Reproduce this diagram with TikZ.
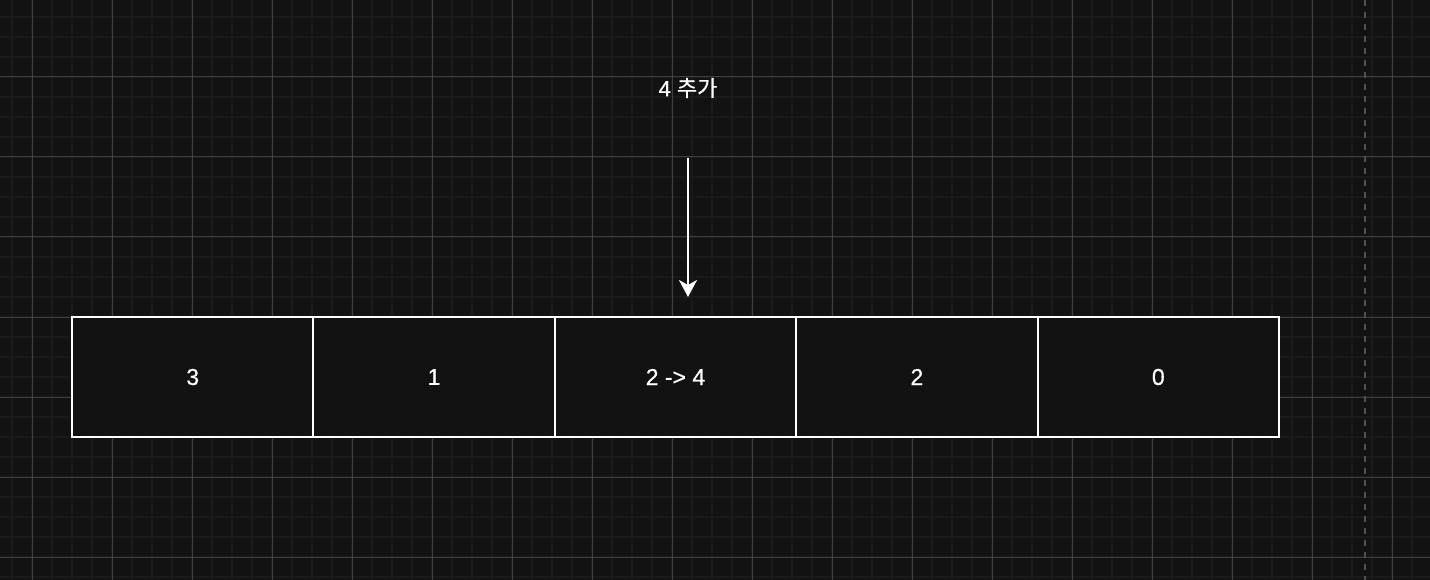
\documentclass[tikz,border=0pt]{standalone}
\usepackage{fontspec}
\setmainfont{Liberation Sans}
\newfontfamily\cellfont{Liberation Sans}[FakeBold=0.6]
\newfontfamily\krfont{Noto Sans CJK KR}[FakeBold=0.6]
\usetikzlibrary{positioning,arrows.meta}
\definecolor{bg}{HTML}{121212}
\definecolor{minorgrid}{HTML}{1A1A1A}
\definecolor{majorgrid}{HTML}{404040}
\definecolor{guide}{HTML}{505050}

\begin{document}
\begin{tikzpicture}[x=1pt,y=-1pt,
    cell/.style={draw=white,line width=2pt,fill=bg,text=white,
      minimum width=241.4pt,minimum height=120pt,inner sep=0pt,outer sep=0pt,
      font=\cellfont\fontsize{23}{26}\selectfont},
    ]
        % Background
        \fill[bg] (0,0) rectangle (1430,580);
        \useasboundingbox (0,0) rectangle (1430,580);
        \foreach \x in {12,32,...,1432} \draw[minorgrid,line width=2pt] (\x,0) -- (\x,580); %minor grid
        \foreach \y in {17,37,...,580} \draw[minorgrid,line width=2pt] (0,\y) -- (1430,\y);
        \foreach \x in {32,112,...,1432} \draw[majorgrid,line width=1pt] (\x,0) -- (\x,580); %major grid
        \foreach \y in {77,157,...,580} \draw[majorgrid,line width=1pt] (0,\y) -- (1430,\y);
        \draw[guide,line width=2pt,dash pattern=on 6pt off 6pt] (1365,0) -- (1365,580);

        % Array
        \node[cell] (c1) at (192.7,377) {3};
        \node[cell,right=0pt of c1] (c2) {1};
        \node[cell,right=0pt of c2] (c3) {2 -> 4};
        \node[cell,right=0pt of c3] (c4) {2};
        \node[cell,right=0pt of c4] (c5) {0};

        % Insert
        \node[text=white,font=\cellfont\fontsize{22}{26}\selectfont] (label) at (688,88) {4 {\krfont 추가}};
        \coordinate (src) at (688,158);
        \coordinate (dst) at (688,297);
        \draw[white,line width=2pt,-{Stealth[length=17pt,width=18pt,inset=5pt]}] (src) -- (dst);
\end{tikzpicture}
\end{document}
